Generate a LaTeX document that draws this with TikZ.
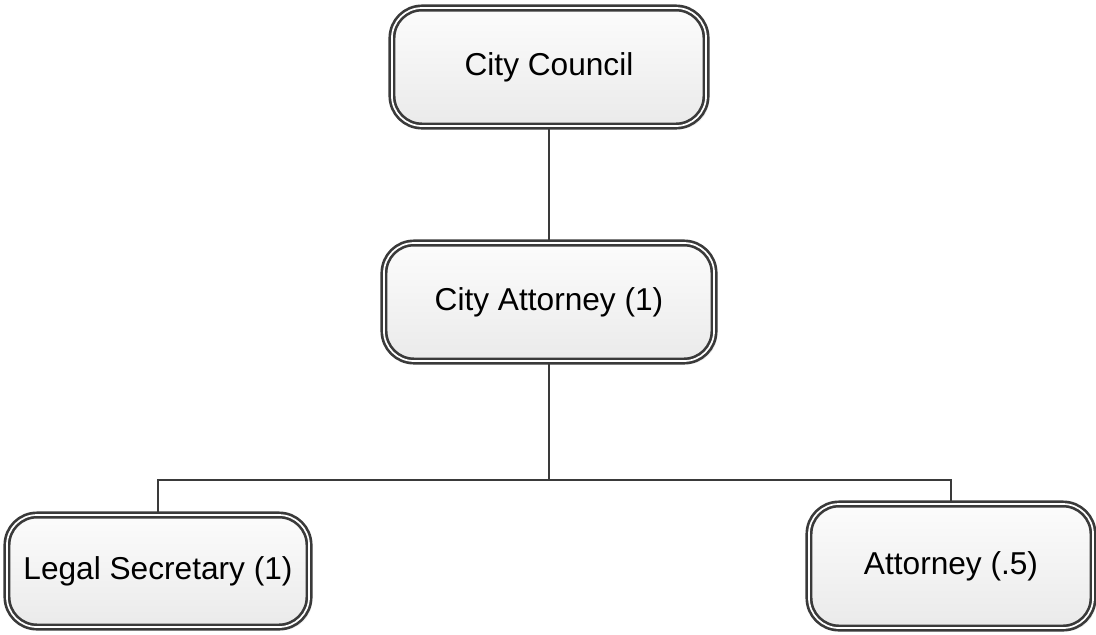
\documentclass[tikz,border=0pt]{standalone}
\usepackage{fontspec}
\setmainfont{Liberation Sans}
\usetikzlibrary{positioning, shadows}
\definecolor{boxline}{RGB}{58, 58, 58}
\definecolor{boxtop}{RGB}{252, 252, 252}
\definecolor{boxbottom}{RGB}{234, 234, 234}
\tikzset{
    orgbox/.style={
        rectangle, rounded corners=0.75cm, minimum height=2.95cm,
        draw=boxline, line width=1.9pt, double=white, double distance=1.2pt,
        top color=boxtop, bottom color=boxbottom,
        drop shadow={shadow xshift=0.08cm, shadow yshift=-0.08cm, fill=black!15},
        font=\fontsize{22.5}{27}\selectfont, text=black, align=center
    },
    link/.style={draw=boxline, line width=2.1pt},
}

\begin{document}
\begin{tikzpicture}[x=0.025cm, y=-0.025cm]
    \useasboundingbox (0, 0) rectangle (1096, 634);

    \node[orgbox, minimum width=7.85cm] (council) at (549, 67) {City Council};
    \node[orgbox, minimum width=8.25cm] (cityatty) at (549, 302) {City Attorney (1)};
    \node[orgbox, minimum width=7.55cm, minimum height=2.8cm] (legalsec) at (158, 571) {Legal Secretary (1)};
    \node[orgbox, minimum width=7.1cm, minimum height=3.1cm] (attorney) at (951, 566) {Attorney (.5)};

    \coordinate (branch) at (549, 480);

    \draw[link] (council.south) -- (cityatty.north);
    \draw[link] (cityatty.south) -- (branch);
    \draw[link] (branch) -| (legalsec.north);
    \draw[link] (branch) -| (attorney.north);
\end{tikzpicture}
\end{document}
